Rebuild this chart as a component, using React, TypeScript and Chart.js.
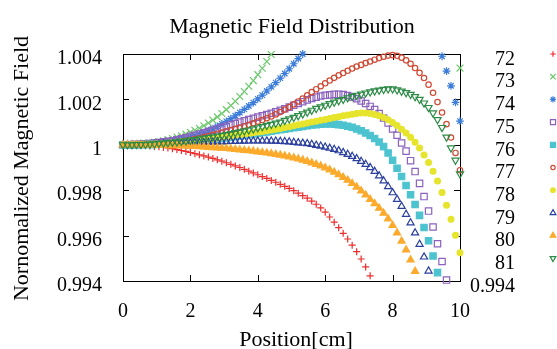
import React, { useEffect, useRef } from 'react';
import { Chart, registerables } from 'chart.js';

Chart.register(...registerables);

const positions = [0, 0.133, 0.267, 0.4, 0.533, 0.667, 0.8, 0.933, 1.067, 1.2, 1.333, 1.467, 1.6, 1.733, 1.867, 2, 2.133, 2.267, 2.4, 2.533, 2.667, 2.8, 2.933, 3.067, 3.2, 3.333, 3.467, 3.6, 3.733, 3.867, 4, 4.133, 4.267, 4.4, 4.533, 4.667, 4.8, 4.933, 5.067, 5.2, 5.333, 5.467, 5.6, 5.733, 5.867, 6, 6.133, 6.267, 6.4, 6.533, 6.667, 6.8, 6.933, 7.067, 7.2, 7.333, 7.467, 7.6, 7.733, 7.867, 8, 8.133, 8.267, 8.4, 8.533, 8.667, 8.8, 8.933, 9.067, 9.2, 9.333, 9.467, 9.6, 9.733, 9.867, 10];

const gap = (n: number) => Array(n).fill(null);

const field72 = [1, 1, 0.99999, 0.99999, 0.99998, 0.99997, 0.99995, 0.99993, 0.99991, 0.99988,
  0.99986, 0.99983, 0.99979, 0.99975, 0.99971, 0.99966, 0.99961, 0.99956, 0.99951, 0.99946,
  0.9994, 0.99934, 0.99928, 0.99921, 0.99914, 0.99907, 0.999, 0.99892, 0.99884, 0.99876,
  0.99868, 0.9986, 0.99852, 0.99843, 0.99835, 0.99826, 0.99817, 0.99808, 0.99798, 0.99787,
  0.99776, 0.99765, 0.99752, 0.99738, 0.99722, 0.99703, 0.99682, 0.99659, 0.99635, 0.9961,
  0.99585, 0.99558, 0.99529, 0.99497, 0.99462, 0.99423, ...gap(20)];

const field73 = [1, 1, 1.00001, 1.00002, 1.00003, 1.00005, 1.00008, 1.00011, 1.00014, 1.00018,
  1.00023, 1.00028, 1.00034, 1.0004, 1.00047, 1.00055, 1.00064, 1.00073, 1.00084, 1.00096,
  1.00109, 1.00123, 1.00138, 1.00155, 1.00173, 1.00192, 1.00213, 1.00235, 1.00258, 1.00283,
  1.00309, 1.00337, 1.00367, 1.00398, ...gap(41), 1.00338];

const field74 = [1, 1, 1, 1.00001, 1.00002, 1.00003, 1.00004, 1.00006, 1.00008, 1.0001,
  1.00013, 1.00016, 1.0002, 1.00024, 1.00029, 1.00034, 1.0004, 1.00047, 1.00054, 1.00062,
  1.00071, 1.00081, 1.00092, 1.00103, 1.00115, 1.00128, 1.00142, 1.00156, 1.00171, 1.00186,
  1.00202, 1.00219, 1.00237, 1.00255, 1.00274, 1.00294, 1.00314, 1.00335, 1.00357, 1.0038,
  1.004, ...gap(30), 1.0039, 1.00325, 1.0026, 1.00187, 1.00104];

const field75 = [1, 1, 1.00001, 1.00001, 1.00002, 1.00004, 1.00006, 1.00008, 1.0001, 1.00013,
  1.00015, 1.00018, 1.00022, 1.00026, 1.00031, 1.00037, 1.00042, 1.00047, 1.00053, 1.00058,
  1.00064, 1.0007, 1.00076, 1.00082, 1.00088, 1.00094, 1.001, 1.00106, 1.00111, 1.00117,
  1.00122, 1.00128, 1.00133, 1.00139, 1.00145, 1.00152, 1.00159, 1.00166, 1.00174, 1.00182,
  1.0019, 1.00198, 1.00204, 1.0021, 1.00215, 1.00218, 1.0022, 1.00222, 1.00222, 1.00221,
  1.00217, 1.00211, 1.00203, 1.00193, 1.00182, 1.00169, 1.00155, 1.00138, 1.00118, 1.00096,
  1.0007, 1.00042, 1.00008, 0.99972, 0.9993, 0.99882, 0.9983, 0.99772, 0.99708, 0.99638,
  0.99564, 0.99486, 0.99404, ...gap(3)];

const field76 = [1, 1, 1, 1, 1.00001, 1.00001, 1.00002, 1.00002, 1.00003, 1.00004,
  1.00005, 1.00006, 1.00007, 1.00009, 1.0001, 1.00012, 1.00014, 1.00016, 1.00018, 1.0002,
  1.00023, 1.00025, 1.00028, 1.0003, 1.00033, 1.00036, 1.00039, 1.00042, 1.00045, 1.00048,
  1.00051, 1.00054, 1.00057, 1.0006, 1.00063, 1.00066, 1.00069, 1.00072, 1.00075, 1.00078,
  1.00081, 1.00084, 1.00087, 1.00089, 1.00091, 1.00092, 1.00092, 1.00091, 1.00089, 1.00086,
  1.00082, 1.00077, 1.0007, 1.00062, 1.00052, 1.00041, 1.00028, 1.00012, 0.99992, 0.99964,
  0.99932, 0.99897, 0.9986, 0.99821, 0.9978, 0.99737, 0.99689, 0.99636, 0.99577, 0.9951,
  0.99437, ...gap(5)];

const field77 = [1, 1, 1, 1.00001, 1.00001, 1.00002, 1.00003, 1.00004, 1.00005, 1.00007,
  1.00008, 1.0001, 1.00012, 1.00015, 1.00018, 1.00021, 1.00025, 1.00029, 1.00034, 1.00039,
  1.00044, 1.00049, 1.00054, 1.0006, 1.00065, 1.0007, 1.00076, 1.00082, 1.00088, 1.00095,
  1.00102, 1.00109, 1.00117, 1.00125, 1.00134, 1.00144, 1.00155, 1.00166, 1.00178, 1.00191,
  1.00204, 1.00218, 1.00232, 1.00245, 1.00258, 1.00271, 1.00283, 1.00295, 1.00306, 1.00316,
  1.00326, 1.00336, 1.00345, 1.00352, 1.0036, 1.00367, 1.00375, 1.00382, 1.00388, 1.00393,
  1.00395, 1.00392, 1.00384, 1.00372, 1.00357, 1.00338, 1.00317, 1.00294, 1.00265, 1.00229,
  1.00188, 1.00142, 1.00091, 1.00032, 0.99964, 0.99888];

const field78 = [1, 1, 1, 1.00001, 1.00001, 1.00002, 1.00003, 1.00004, 1.00005, 1.00006,
  1.00008, 1.00009, 1.00011, 1.00013, 1.00015, 1.00017, 1.00019, 1.00021, 1.00023, 1.00025,
  1.00028, 1.0003, 1.00033, 1.00035, 1.00038, 1.00041, 1.00044, 1.00047, 1.0005, 1.00053,
  1.00056, 1.00059, 1.00062, 1.00065, 1.00069, 1.00072, 1.00076, 1.0008, 1.00084, 1.00088,
  1.00092, 1.00096, 1.001, 1.00104, 1.00108, 1.00112, 1.00116, 1.0012, 1.00124, 1.00128,
  1.00131, 1.00135, 1.00138, 1.0014, 1.0014, 1.00138, 1.00134, 1.00128, 1.0012, 1.0011,
  1.00098, 1.00085, 1.00069, 1.00052, 1.00033, 1.00011, 0.99986, 0.99955, 0.99922, 0.99884,
  0.9984, 0.9979, 0.99734, 0.99672, 0.99602, 0.99525];

const field79 = [1, 1, 1, 1, 1.00001, 1.00001, 1.00001, 1.00002, 1.00002, 1.00003,
  1.00003, 1.00004, 1.00005, 1.00006, 1.00007, 1.00008, 1.00009, 1.00009, 1.0001, 1.00011,
  1.00012, 1.00013, 1.00013, 1.00014, 1.00015, 1.00015, 1.00016, 1.00016, 1.00017, 1.00017,
  1.00017, 1.00017, 1.00017, 1.00016, 1.00016, 1.00015, 1.00014, 1.00013, 1.00011, 1.00009,
  1.00007, 1.00005, 1.00002, 0.99998, 0.99994, 0.9999, 0.99985, 0.9998, 0.99974, 0.99966,
  0.99958, 0.99949, 0.99939, 0.99927, 0.99914, 0.999, 0.99883, 0.99863, 0.99841, 0.99816,
  0.99789, 0.9976, 0.99729, 0.99694, 0.99656, 0.99612, 0.99562, 0.99506, 0.99444, ...gap(7)];

const field80 = [1, 1, 1, 1, 1, 0.99999, 0.99999, 0.99999, 0.99998, 0.99998,
  0.99997, 0.99997, 0.99996, 0.99995, 0.99995, 0.99994, 0.99993, 0.99992, 0.99991, 0.99989,
  0.99988, 0.99987, 0.99985, 0.99984, 0.99982, 0.9998, 0.99978, 0.99976, 0.99974, 0.99972,
  0.99969, 0.99967, 0.99964, 0.99961, 0.99958, 0.99955, 0.99951, 0.99947, 0.99943, 0.99938,
  0.99933, 0.99927, 0.99921, 0.99914, 0.99907, 0.99899, 0.9989, 0.9988, 0.99869, 0.99857,
  0.99844, 0.9983, 0.99814, 0.99797, 0.99779, 0.9976, 0.99741, 0.99721, 0.99699, 0.99674,
  0.99645, 0.99612, 0.99576, 0.99537, 0.99493, 0.99443, ...gap(10)];

const field81 = [1, 1, 1, 1.00001, 1.00001, 1.00002, 1.00003, 1.00004, 1.00006, 1.00007,
  1.00009, 1.00011, 1.00013, 1.00015, 1.00017, 1.0002, 1.00023, 1.00026, 1.00029, 1.00032,
  1.00035, 1.00038, 1.00041, 1.00045, 1.00049, 1.00053, 1.00057, 1.00061, 1.00065, 1.0007,
  1.00075, 1.0008, 1.00085, 1.0009, 1.00095, 1.001, 1.00107, 1.00114, 1.00121, 1.00128,
  1.00136, 1.00144, 1.00152, 1.0016, 1.00167, 1.00174, 1.00181, 1.00188, 1.00194, 1.002,
  1.00207, 1.00213, 1.00218, 1.00223, 1.00228, 1.00233, 1.00237, 1.00241, 1.00244, 1.00246,
  1.00246, 1.00242, 1.00236, 1.0023, 1.00222, 1.00212, 1.002, 1.00184, 1.00164, 1.0014,
  1.00111, 1.00076, 1.00034, 0.99986, 0.99932, 0.99872];

const seriesNames = ['72', '73', '74', '75', '76', '77', '78', '79', '80', '81'];
const allSeries = [field72, field73, field74, field75, field76, field77, field78, field79, field80, field81];
const xTickValues = [0, 2, 4, 6, 8, 10];

type MarkStyle = { color: string; shape: string; radius: number; filled: boolean; rotation: number };
const markStyles: MarkStyle[] = [
  { color: '#ee2c2c', shape: 'cross', radius: 3.5, filled: false, rotation: 0 },
  { color: '#6cc86c', shape: 'crossRot', radius: 4.8, filled: false, rotation: 0 },
  { color: '#3b7dd8', shape: 'star', radius: 3.9, filled: false, rotation: 0 },
  { color: '#8b62bd', shape: 'rect', radius: 4.5, filled: false, rotation: 0 },
  { color: '#4cc3cf', shape: 'rect', radius: 4.5, filled: true, rotation: 0 },
  { color: '#cf4a34', shape: 'circle', radius: 2.7, filled: false, rotation: 0 },
  { color: '#e6e42c', shape: 'circle', radius: 2.9, filled: true, rotation: 0 },
  { color: '#2a3f9e', shape: 'triangle', radius: 4.1, filled: false, rotation: 0 },
  { color: '#fbaa2c', shape: 'triangle', radius: 4.1, filled: true, rotation: 0 },
  { color: '#2e8b47', shape: 'triangle', radius: 4.1, filled: false, rotation: 180 },
];

const SERIF = '"Liberation Serif", "Times New Roman", serif';

function drawMarker(ctx: CanvasRenderingContext2D, m: MarkStyle, x: number, y: number, r: number) {
  ctx.save();
  ctx.strokeStyle = m.color;
  ctx.fillStyle = m.color;
  ctx.lineWidth = 1.2;
  ctx.beginPath();
  if (m.shape === 'cross' || m.shape === 'star') {
    ctx.moveTo(x - r, y); ctx.lineTo(x + r, y);
    ctx.moveTo(x, y - r); ctx.lineTo(x, y + r);
  }
  if (m.shape === 'crossRot' || m.shape === 'star') {
    const d = r * Math.SQRT1_2;
    ctx.moveTo(x - d, y - d); ctx.lineTo(x + d, y + d);
    ctx.moveTo(x - d, y + d); ctx.lineTo(x + d, y - d);
  }
  if (m.shape === 'rect') {
    const s = r * Math.SQRT1_2;
    ctx.rect(x - s, y - s, 2 * s, 2 * s);
  }
  if (m.shape === 'circle') {
    ctx.arc(x, y, r, 0, Math.PI * 2);
  }
  if (m.shape === 'triangle') {
    let a = (m.rotation * Math.PI) / 180;
    ctx.moveTo(x + Math.sin(a) * r, y - Math.cos(a) * r);
    a += (2 * Math.PI) / 3;
    ctx.lineTo(x + Math.sin(a) * r, y - Math.cos(a) * r);
    a += (2 * Math.PI) / 3;
    ctx.lineTo(x + Math.sin(a) * r, y - Math.cos(a) * r);
    ctx.closePath();
  }
  if (m.filled) ctx.fill();
  ctx.stroke();
  ctx.restore();
}

const framePlugin = {
  id: 'gnuFrame',
  beforeDatasetsDraw(chart: any) {
    const { ctx, chartArea } = chart;
    const { left, top, right, bottom } = chartArea;
    const xs = chart.scales.x;
    const ys = chart.scales.y;
    const tick = 6;
    ctx.save();
    ctx.strokeStyle = '#000';
    ctx.lineWidth = 1;
    ctx.strokeRect(left + 0.5, top + 0.5, right - left, bottom - top);
    ctx.beginPath();
    xs.ticks.forEach((t: any) => {
      const px = Math.round(xs.getPixelForValue(t.value)) + 0.5;
      ctx.moveTo(px, bottom); ctx.lineTo(px, bottom - tick);
      ctx.moveTo(px, top); ctx.lineTo(px, top + tick);
    });
    ys.ticks.forEach((t: any) => {
      const py = Math.round(ys.getPixelForValue(t.value)) + 0.5;
      ctx.moveTo(left, py); ctx.lineTo(left + tick, py);
      ctx.moveTo(right, py); ctx.lineTo(right - tick, py);
    });
    ctx.stroke();
    ctx.restore();
  },
  afterDraw(chart: any) {
    const { ctx, chartArea } = chart;
    const ys = chart.scales.y;
    ctx.save();
    ctx.fillStyle = '#000';
    ctx.font = `22px ${SERIF}`;
    ctx.textAlign = 'center';
    ctx.textBaseline = 'alphabetic';
    ctx.fillText('Magnetic Field Distribution', 292, 33);
    ctx.fillText('Position[cm]', 296, 346);
    ctx.save();
    ctx.translate(28, (chartArea.top + chartArea.bottom) / 2 + 1);
    ctx.rotate(-Math.PI / 2);
    ctx.fillText('Nornomalized Magnetic Field', 0, 0);
    ctx.restore();

    ctx.font = `20px ${SERIF}`;
    ctx.textAlign = 'right';
    ctx.textBaseline = 'middle';
    const textX = 515;
    const markX = 553;
    seriesNames.forEach((name, k) => {
      const rowY = ys.getPixelForValue(1.004 - 0.001 * k);
      ctx.fillStyle = '#000';
      ctx.fillText(name, textX, rowY + 5.5);
      const m = markStyles[k];
      drawMarker(ctx, m, markX, rowY, m.radius * 0.8);
    });
    ctx.fillStyle = '#000';
    ctx.fillText('0.994', textX, ys.getPixelForValue(0.994) + 5.5);
    ctx.restore();
  },
};

export default function App() {
  const canvasRef = useRef<HTMLCanvasElement | null>(null);

  useEffect(() => {
    document.body.style.margin = '0';
    const canvas = canvasRef.current;
    if (!canvas) return;
    const datasets = allSeries.map((vals, k) => {
      const m = markStyles[k];
      return {
        label: seriesNames[k],
        data: positions
          .map((x, i) => ({ x, y: vals[i] }))
          .filter((p) => p.y !== null && p.y !== undefined),
        showLine: false,
        pointStyle: m.shape,
        pointRadius: m.radius,
        pointHoverRadius: m.radius,
        pointBorderWidth: 1.2,
        pointBorderColor: m.color,
        pointBackgroundColor: m.filled ? m.color : 'rgba(0,0,0,0)',
        pointRotation: m.rotation,
        clip: false,
        order: 9 - k,
      };
    });

    const chart = new Chart(canvas, {
      type: 'scatter',
      data: { datasets } as any,
      plugins: [framePlugin],
      options: {
        animation: false,
        responsive: false,
        events: [],
        layout: { padding: { top: 54, right: 97, bottom: 0, left: 0 } },
        plugins: { legend: { display: false }, tooltip: { enabled: false }, title: { display: false } },
        scales: {
          x: {
            type: 'linear',
            min: 0,
            max: 10,
            afterFit: (scale: any) => { scale.height = 68; },
            afterBuildTicks: (scale: any) => { scale.ticks = xTickValues.map((v) => ({ value: v })); },
            grid: { display: false },
            border: { display: false },
            ticks: {
              color: '#000',
              font: { family: SERIF, size: 20 },
              padding: 11,
              maxRotation: 0,
              callback: (v: any) => String(v),
            },
          },
          y: {
            type: 'linear',
            min: 0.994,
            max: 1.004,
            afterFit: (scale: any) => { scale.width = 123; },
            grid: { display: false },
            border: { display: false },
            ticks: {
              stepSize: 0.002,
              color: '#000',
              font: { family: SERIF, size: 20 },
              padding: 13,
              labelOffset: 5,
              callback: (v: any) => String(parseFloat(Number(v).toFixed(3))),
            },
          },
        },
      } as any,
    });
    return () => chart.destroy();
  }, []);

  return (
    <div style={{ width: 557, height: 349 }}>
      <canvas ref={canvasRef} width={557} height={349} style={{ display: 'block' }} />
    </div>
  );
}
